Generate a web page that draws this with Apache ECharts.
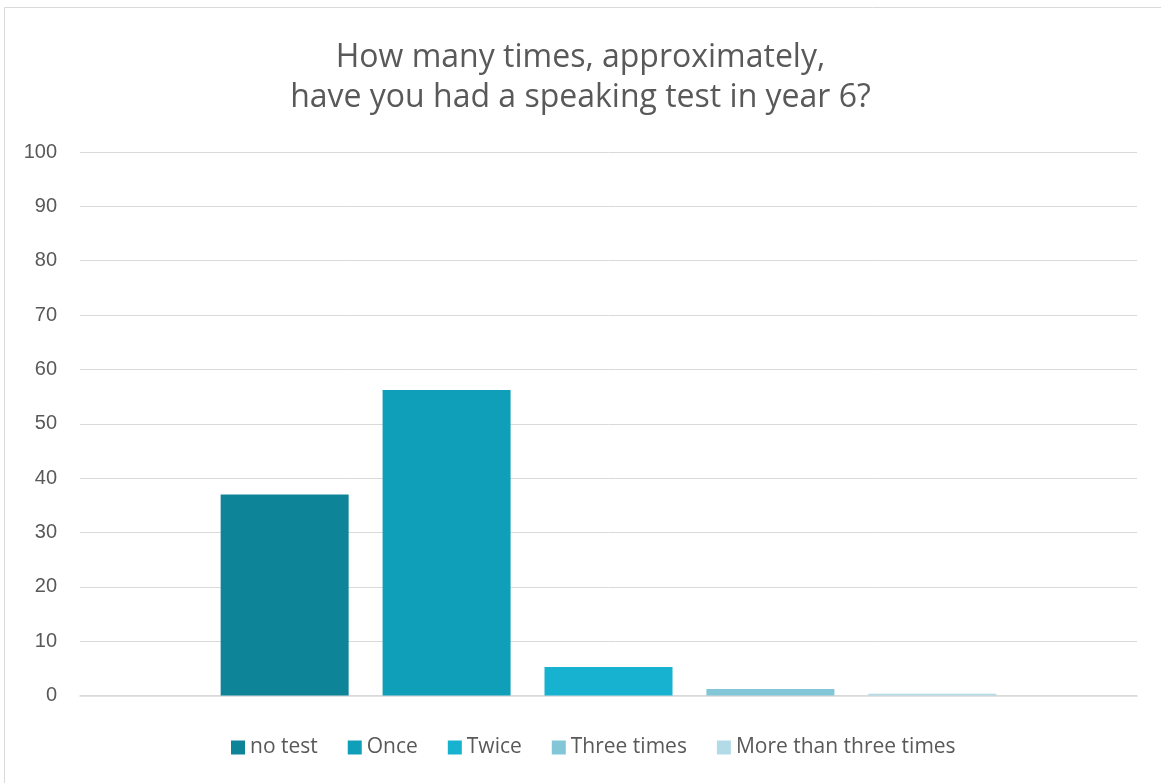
<!DOCTYPE html>
<html>
<head>
<meta charset="utf-8">
<script src="https://cdn.jsdelivr.net/npm/echarts@6/dist/echarts.min.js"></script>
<style>
  html, body { margin: 0; padding: 0; background: #fff; }
  #chart { width: 1161px; height: 783px; }
</style>
</head>
<body>
<div id="chart"></div>
<script>
// Survey answers: share of pupils (percent) by number of speaking tests in year 6
const titleLines = ['How many times, approximately,', 'have you had a speaking test in year 6?'];
const categories = [''];
const seriesNames = ['no test', 'Once', 'Twice', 'Three times', 'More than three times'];
const seriesValues = [37, 56.2, 5.25, 1.2, 0.3];
const seriesColors = ['#0E8499', '#109FB9', '#16B2CF', '#82C6D8', '#B3DBE7'];
const yTicks = { min: 0, max: 100, interval: 10 };

const FONT = '"Open Sans", "Liberation Sans", sans-serif';
const TEXT = '#595959';

const chart = echarts.init(document.getElementById('chart'), null, { renderer: 'canvas' });

const series = seriesNames.map((name, i) => ({
  name,
  type: 'bar',
  data: [seriesValues[i]],
  barWidth: 128,
  barGap: '26.5%',
  itemStyle: { color: seriesColors[i] }
}));

chart.setOption({
  animation: false,
  backgroundColor: '#fff',
  graphic: [{
    type: 'rect',
    shape: { x: 4.5, y: 7.5, width: 1160, height: 790 },
    style: { fill: null, stroke: '#D9D9D9', lineWidth: 1 },
    silent: true
  }],
  title: {
    text: titleLines.join('\n'),
    left: 'center',
    top: 33,
    textStyle: {
      fontFamily: FONT,
      fontWeight: 'normal',
      fontSize: 32,
      color: TEXT,
      lineHeight: 40
    }
  },
  legend: {
    data: seriesNames,
    bottom: 20,
    left: 226,
    itemWidth: 14,
    itemHeight: 14,
    itemGap: 30,
    icon: 'rect',
    textStyle: { fontFamily: FONT, fontSize: 21, color: TEXT, padding: [0, 0, 0, 0] }
  },
  grid: { left: 80, right: 24, top: 152, bottom: 87.5, containLabel: false },
  xAxis: {
    type: 'category',
    data: categories,
    axisLine: { show: true, lineStyle: { color: '#D9D9D9', width: 1.5 } },
    axisTick: { show: false },
    axisLabel: { show: false }
  },
  yAxis: {
    type: 'value',
    min: yTicks.min,
    max: yTicks.max,
    interval: yTicks.interval,
    axisLine: { show: false },
    axisTick: { show: false },
    axisLabel: { fontFamily: '"Liberation Sans", sans-serif', fontSize: 20, color: TEXT, margin: 23 },
    splitLine: { lineStyle: { color: '#D9D9D9', width: 1 } }
  },
  series
});
</script>
</body>
</html>
